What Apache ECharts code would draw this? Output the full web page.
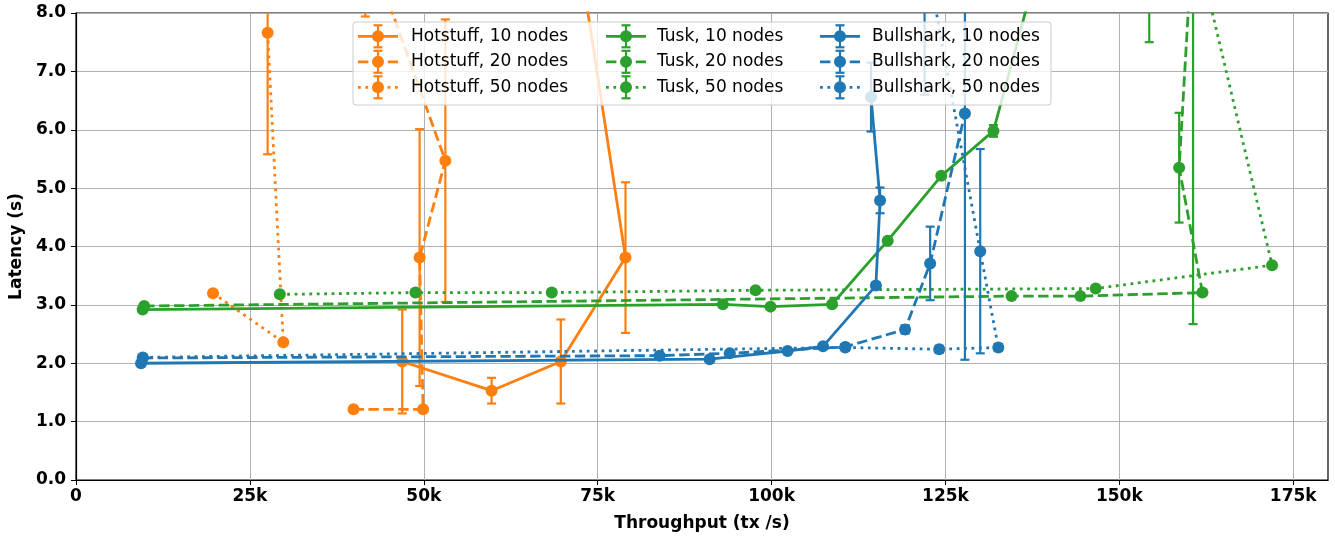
<!DOCTYPE html>
<html>
<head>
<meta charset="utf-8">
<script src="https://cdn.jsdelivr.net/npm/echarts@6/dist/echarts.min.js"></script>
<style>
html,body{margin:0;padding:0;background:#fff;}
#chart{width:1335px;height:538px;}
</style>
</head>
<body>
<div id="chart"></div>
<script>
// ---- tick labels ----
const xTickValues = [0, 25000, 50000, 75000, 100000, 125000, 150000, 175000];
const xTickLabels = ['0', '25k', '50k', '75k', '100k', '125k', '150k', '175k'];
const yTickLabels = ['0.0', '1.0', '2.0', '3.0', '4.0', '5.0', '6.0', '7.0', '8.0'];

// ---- series values: throughput (tx/s), latency (s), error (s) ----
const hs10X = [46900, 59750, 69700, 79000, 70000];
const hs10Y = [2.03, 1.53, 2.03, 3.81, 10.8];
const hs10E = [0.89, 0.22, 0.72, 1.29, 0];

const hs20X = [39900, 49900, 49400, 53100, 41600];
const hs20Y = [1.21, 1.21, 3.81, 5.47, 9.3];
const hs20E = [0, 0, 2.2, 2.42, 1.36];

const hs50X = [19700, 29800, 27550];
const hs50Y = [3.2, 2.36, 7.66];
const hs50E = [0.05, 0, 2.08];

const tk10X = [9580, 93000, 99850, 108700, 116700, 124400, 131900, 154300];
const tk10Y = [2.92, 3.01, 2.97, 3.01, 4.10, 5.21, 5.98, 15.9];
const tk10E = [0, 0, 0, 0, 0.03, 0.03, 0.1, 8.4];

const tk20X = [9800, 134500, 144400, 161950, 158600, 160600];
const tk20Y = [2.98, 3.15, 3.15, 3.21, 5.35, 9.45];
const tk20E = [0, 0, 0.05, 0.03, 0.94, 6.78];

const tk50X = [29300, 48800, 68400, 97700, 146600, 171960, 161000];
const tk50Y = [3.18, 3.21, 3.21, 3.25, 3.28, 3.68, 9.2];
const tk50E = [0, 0, 0, 0, 0, 0, 0];

const bs10X = [9350, 91100, 102300, 107400, 115000, 115600, 114300];
const bs10Y = [2.00, 2.07, 2.21, 2.29, 3.33, 4.79, 6.56];
const bs10E = [0, 0, 0, 0.03, 0.05, 0.22, 0.59];

const bs20X = [9600, 83900, 94000, 110600, 119200, 122800, 127800];
const bs20Y = [2.09, 2.13, 2.17, 2.28, 2.58, 3.71, 6.28];
const bs20E = [0, 0, 0, 0.05, 0.07, 0.63, 4.22];

const bs50X = [9600, 110600, 124100, 132600, 130000, 122000];
const bs50Y = [2.10, 2.27, 2.24, 2.27, 3.92, 9.1];
const bs50E = [0, 0.05, 0.06, 0.06, 1.75, 2.5];

// ---- styling ----
const ORANGE = '#ff7f0e', GREEN = '#2ca02c', BLUE = '#1f77b4';
const LW = 2.8;
const DASH = {solid: 'solid', dashed: [10.4, 4.5], dotted: [2.8, 4.6]};

const defs = [
  {name: 'Hotstuff, 10 nodes', x: hs10X, y: hs10Y, e: hs10E, color: ORANGE, style: 'solid'},
  {name: 'Hotstuff, 20 nodes', x: hs20X, y: hs20Y, e: hs20E, color: ORANGE, style: 'dashed'},
  {name: 'Hotstuff, 50 nodes', x: hs50X, y: hs50Y, e: hs50E, color: ORANGE, style: 'dotted'},
  {name: 'Tusk, 10 nodes', x: tk10X, y: tk10Y, e: tk10E, color: GREEN, style: 'solid'},
  {name: 'Tusk, 20 nodes', x: tk20X, y: tk20Y, e: tk20E, color: GREEN, style: 'dashed'},
  {name: 'Tusk, 50 nodes', x: tk50X, y: tk50Y, e: tk50E, color: GREEN, style: 'dotted'},
  {name: 'Bullshark, 10 nodes', x: bs10X, y: bs10Y, e: bs10E, color: BLUE, style: 'solid'},
  {name: 'Bullshark, 20 nodes', x: bs20X, y: bs20Y, e: bs20E, color: BLUE, style: 'dashed'},
  {name: 'Bullshark, 50 nodes', x: bs50X, y: bs50Y, e: bs50E, color: BLUE, style: 'dotted'}
];

const CAP = 4.5;
function errRender(color) {
  return function (params, api) {
    const x = api.value(0), y = api.value(1), e = api.value(2);
    if (!e) return null;
    const cs = params.coordSys;
    const top = api.coord([x, y + e]);
    const bot = api.coord([x, y - e]);
    const yMin = cs.y, yMax = cs.y + cs.height;
    if (bot[1] < yMin || top[1] > yMax) return null;
    const y1 = Math.max(top[1], yMin), y2 = Math.min(bot[1], yMax);
    const px = top[0];
    const st = {stroke: color, lineWidth: 2.2};
    const children = [{type: 'line', shape: {x1: px, y1: y1, x2: px, y2: y2}, style: st}];
    if (top[1] >= yMin) children.push({type: 'line', shape: {x1: px - CAP, y1: top[1], x2: px + CAP, y2: top[1]}, style: st});
    if (bot[1] <= yMax) children.push({type: 'line', shape: {x1: px - CAP, y1: bot[1], x2: px + CAP, y2: bot[1]}, style: st});
    return {type: 'group', children: children};
  };
}

const series = [];
defs.forEach(function (d, i) {
  const pts = d.x.map(function (v, k) { return [v, d.y[k], d.e[k]]; });
  series.push({
    type: 'custom', name: d.name + ' err', z: 2 + i * 2,
    renderItem: errRender(d.color),
    encode: {x: 0, y: 1},
    data: pts, silent: true
  });
  series.push({
    type: 'line', name: d.name, z: 3 + i * 2,
    data: pts.map(function (p) { return [p[0], p[1]]; }),
    symbol: 'circle', symbolSize: 12, showSymbol: true, clip: true,
    lineStyle: {color: d.color, width: LW, type: DASH[d.style]},
    itemStyle: {color: d.color},
    silent: true
  });
});

// ---- legend drawn as graphic (on its own layer, above the data) ----
const graphics = [];
const LX = 353, LY = 22, LWID = 698, LH = 83;
graphics.push({type: 'rect', zlevel: 5, z: 100, shape: {x: LX, y: LY, width: LWID, height: LH, r: 3},
  style: {fill: 'rgba(255,255,255,0.8)', stroke: '#cccccc', lineWidth: 1}});
const colHandle = [358, 606, 820];
const colText = [411, 657, 872];
const rowY = [36.3, 61.8, 87.3];
defs.forEach(function (d, i) {
  const c = Math.floor(i / 3), r = i % 3;
  const hx = colHandle[c], cy = rowY[r], mx = hx + 20;
  graphics.push({type: 'line', zlevel: 5, z: 101, shape: {x1: hx, y1: cy, x2: hx + 40, y2: cy},
    style: {stroke: d.color, lineWidth: LW, lineDash: d.style === 'solid' ? null : DASH[d.style]}});
  graphics.push({type: 'line', zlevel: 5, z: 101, shape: {x1: mx, y1: cy - 11, x2: mx, y2: cy + 11}, style: {stroke: d.color, lineWidth: 2.2}});
  graphics.push({type: 'line', zlevel: 5, z: 101, shape: {x1: mx - CAP, y1: cy - 11, x2: mx + CAP, y2: cy - 11}, style: {stroke: d.color, lineWidth: 2.2}});
  graphics.push({type: 'line', zlevel: 5, z: 101, shape: {x1: mx - CAP, y1: cy + 11, x2: mx + CAP, y2: cy + 11}, style: {stroke: d.color, lineWidth: 2.2}});
  graphics.push({type: 'circle', zlevel: 5, z: 102, shape: {cx: mx, cy: cy, r: 6}, style: {fill: d.color}});
  graphics.push({type: 'text', zlevel: 5, z: 102, x: colText[c], y: cy,
    style: {text: d.name, fill: '#000', font: '17px "DejaVu Sans"', textVerticalAlign: 'middle', textAlign: 'left'}});
});

const chart = echarts.init(document.getElementById('chart'), null, {renderer: 'canvas'});
chart.setOption({
  animation: false,
  backgroundColor: '#fff',
  grid: {left: 76, right: 7, top: 13, bottom: 58, show: true, borderColor: '#000', borderWidth: 1.2, backgroundColor: 'transparent'},
  xAxis: {
    type: 'value', min: 0, max: 180000, interval: 25000,
    name: 'Throughput (tx /s)', nameLocation: 'middle', nameGap: 35,
    nameTextStyle: {fontFamily: 'DejaVu Sans', fontWeight: 'bold', fontSize: 17, color: '#000'},
    axisLine: {show: true, onZero: false, lineStyle: {color: '#000', width: 1.2}},
    axisTick: {show: true, inside: false, length: 5, lineStyle: {color: '#000', width: 1}, customValues: xTickValues},
    axisLabel: {fontFamily: 'DejaVu Sans', fontWeight: 'bold', fontSize: 17, color: '#000', margin: 8,
      customValues: xTickValues,
      formatter: function (v) { const k = xTickValues.indexOf(v); return k >= 0 ? xTickLabels[k] : ''; }},
    splitLine: {show: true, lineStyle: {color: '#b0b0b0', width: 1}}
  },
  yAxis: {
    type: 'value', min: 0, max: 8, interval: 1,
    name: 'Latency (s)', nameLocation: 'middle', nameGap: 46,
    nameTextStyle: {fontFamily: 'DejaVu Sans', fontWeight: 'bold', fontSize: 17, color: '#000'},
    axisLine: {show: true, lineStyle: {color: '#000', width: 1.2}},
    axisTick: {show: true, inside: false, length: 5, lineStyle: {color: '#000', width: 1}},
    axisLabel: {fontFamily: 'DejaVu Sans', fontWeight: 'bold', fontSize: 17, color: '#000', margin: 10,
      formatter: function (v) { const k = Math.round(v); return Math.abs(v - k) < 1e-9 ? yTickLabels[k] : ''; }},
    splitLine: {show: true, lineStyle: {color: '#b0b0b0', width: 1}}
  },
  graphic: graphics,
  series: series
});
</script>
</body>
</html>
